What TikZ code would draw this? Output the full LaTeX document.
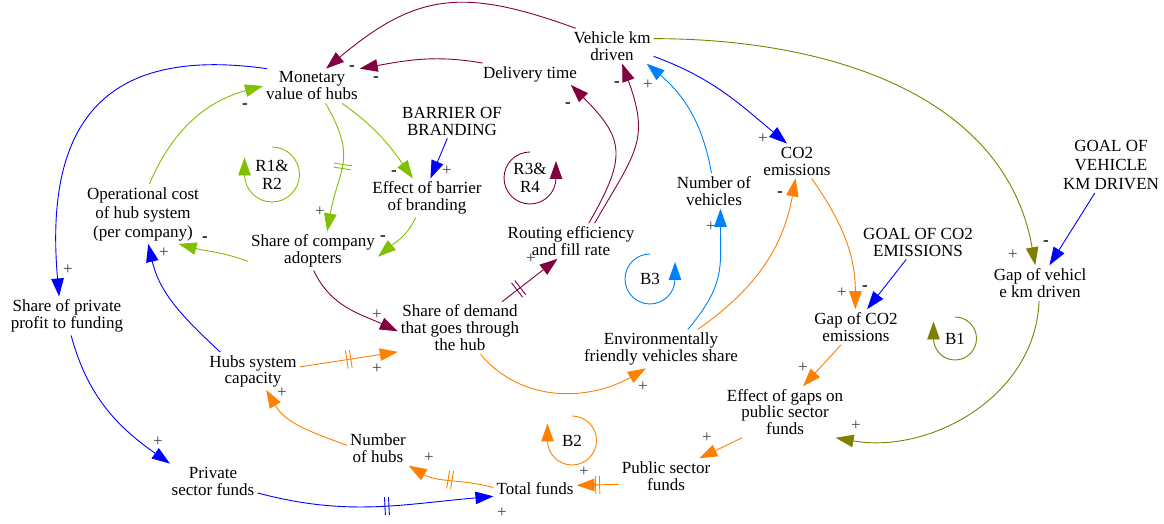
\documentclass[tikz,border=0pt]{standalone}
\usepackage{fontspec}
\setmainfont{Liberation Serif}
\usepackage{tikz}
\usetikzlibrary{arrows.meta,decorations.markings}

\definecolor{linkmaroon}{RGB}{128,0,64}
\definecolor{linkgreen}{RGB}{128,192,0}
\definecolor{linkolive}{RGB}{128,128,0}
\definecolor{linkorange}{RGB}{255,128,0}
\definecolor{linkblue}{RGB}{0,0,255}
\definecolor{linksky}{RGB}{0,128,255}

\begin{document}
\begin{tikzpicture}[x=1pt, y=1pt,
    var/.style={align=center, inner sep=3pt, font=\fontsize{17}{17}\selectfont},
    tight/.style={font=\fontsize{17}{14}\selectfont},
    wide/.style={font=\fontsize{17}{19}\selectfont},
    link/.style={line width=0.9pt, -{Triangle[length=18pt,width=12.5pt]}},
    delay/.style={postaction={decorate, decoration={markings,
      mark=at position #1 with {\draw[-, line width=0.9pt] (-2pt,-9pt) -- (-2pt,9pt) (2pt,-9pt) -- (2pt,9pt);}}}},
    pos sign/.style={inner sep=0pt, text=black!75, font=\fontsize{17}{17}\selectfont},
    neg sign/.style={inner sep=0pt, font=\bfseries\fontsize{17}{17}\selectfont},
    loopname/.style={align=center, inner sep=0pt, font=\fontsize{17}{18}\selectfont}]
    \useasboundingbox (0,0) rectangle (1164,524);

    % variables
    \node [var] (vkm) at (612,478) {Vehicle km\\driven};
    \node [var] (mvh) at (312,438) {Monetary\\value of hubs};
    \node [var] (dt) at (530,450) {Delivery time};
    \node [var] (bob) at (452,403) {BARRIER OF\\BRANDING};
    \node [var] (ebb) at (427,326) {Effect of barrier\\of branding};
    \node [var, wide] (opc) at (143,310) {Operational cost\\of hub system\\(per company)};
    \node [var] (sca) at (313,273) {Share of company\\adopters};
    \node [var] (ref) at (571,283) {Routing efficiency\\and fill rate};
    \node [var] (nov) at (714,333) {Number of\\vehicles};
    \node [var] (co2) at (797,363) {CO2\\emissions};
    \node [var, wide] (gvk) at (1111,359) {GOAL OF\\VEHICLE\\KM DRIVEN};
    \node [var] (gco) at (918,282) {GOAL OF CO2\\EMISSIONS};
    \node [var] (gapv) at (1040,241) {Gap of vehicl\\e km driven};
    \node [var] (sppf) at (67,208) {Share of private\\profit to funding};
    \node [var] (sdh) at (460,196) {Share of demand\\that goes through\\the hub};
    \node [var] (gapc) at (856,197) {Gap of CO2\\emissions};
    \node [var] (efv) at (661,175) {Environmentally\\friendly vehicles share};
    \node [var, tight] (hsc) at (253,153) {Hubs system\\capacity};
    \node [var, tight] (egp) at (785,112) {Effect of gaps on\\public sector\\funds};
    \node [var] (noh) at (378,76) {Number\\of hubs};
    \node [var] (psf) at (666,48) {Public sector\\funds};
    \node [var] (prsf) at (213,43) {Private\\sector funds};
    \node [var] (tf) at (535,35) {Total funds};

    % loop markers
    \node [loopname] (r12) at (272,349.5) {R1\&\\R2};
    \node [loopname] (r34) at (530,346) {R3\&\\R4};
    \node [loopname] (b1) at (955,185.5) {B1};
    \node [loopname] (b2) at (572,83.5) {B2};
    \node [loopname] (b3) at (650,245) {B3};
    \draw [link, linkgreen] ([shift={(90:27.5pt)}]r12.center)
        arc [start angle=90, end angle=-180, radius=27.5pt] -- ++(0,17pt);
    \draw [link, linkmaroon] ([shift={(90:26pt)}]r34.center)
        arc [start angle=90, end angle=360, radius=26pt] -- ++(0,17pt);
    \draw [link, linkolive] ([shift={(90:21.5pt)}]b1.center)
        arc [start angle=90, end angle=-180, radius=21.5pt] -- ++(0,17pt);
    \draw [link, linkorange] ([shift={(90:24.5pt)}]b2.center)
        arc [start angle=90, end angle=-180, radius=24.5pt] -- ++(0,17pt);
    \draw [link, linksky] ([shift={(90:25pt)}]b3.center)
        arc [start angle=90, end angle=360, radius=25pt] -- ++(0,17pt);

    % maroon links
    \draw [link, linkmaroon] (vkm.154) to [out=160, in=40, looseness=1.2] (mvh.51);
    \draw [link, linkmaroon] (dt.167) to [out=170, in=10] (mvh.20);
    \draw [link, linkmaroon] (ref.45) to [out=60, in=-45, looseness=1.4] (dt.-15);
    \draw [link, linkmaroon] (ref.37) to [out=60, in=-70, looseness=1.3] (vkm.-60);
    \draw [link, linkmaroon] (sca.-88) to [out=-65, in=155] (sdh.-177);
    \draw [link, linkmaroon, delay=0.3] (sdh.32) -- (ref.-127);

    % blue links
    \draw [link, linkblue] (vkm.-14) to [out=-20, in=140] (co2.120);
    \draw [link, linkblue] (gvk.-120) -- (gapv.62);
    \draw [link, linkblue] (gco.-124) -- (gapc.58);
    \draw [link, linkblue] (bob.-105) -- (ebb.80);
    \draw [link, linkblue] (hsc.150) to [out=137, in=-77] (opc.-80);
    \draw [link, linkblue] (mvh.159) to [out=172, in=95, looseness=1.4] (sppf.112);
    \draw [link, linkblue] (sppf.-78) to [out=-75, in=145] (prsf.158);
    \draw [link, linkblue, delay=0.55] (prsf.-15) to [out=-15, in=185] (tf.-170);

    % light blue links
    \draw [link, linksky] (nov.98) to [out=100, in=-40] (vkm.-27);
    \draw [link, linksky] (efv.36) to [out=50, in=-90, looseness=1.2] (nov.-70);

    % olive links
    \draw [link, linkolive] (vkm.10) to [out=0, in=100] (gapv.105);
    \draw [link, linkolive] (gapv.-93) to [out=-92, in=-10] (egp.-27);

    % orange links
    \draw [link, linkorange] (efv.28) to [out=35, in=-100] (co2.-95);
    \draw [link, linkorange] (co2.-50) to [out=-55, in=90] (gapc.92);
    \draw [link, linkorange] (gapc.-130) -- (egp.55);
    \draw [link, linkorange] (egp.-149) -- (psf.28);
    \draw [link, linkorange, delay=0.5] (psf.-170) -- (tf.5);
    \draw [link, linkorange, delay=0.5] (tf.178) to [out=165, in=-30] (noh.-30);
    \draw [link, linkorange] (noh.175) to [out=160, in=-60] (hsc.-55);
    \draw [link, linkorange, delay=0.5] (hsc.5) -- (sdh.-159);
    \draw [link, linkorange] (sdh.-52) to [out=-50, in=-150] (efv.-128);

    % green links
    \draw [link, linkgreen] (sca.-171) to [out=160, in=-15] (opc.-40);
    \draw [link, linkgreen] (opc.78) to [out=67, in=195] (mvh.180);
    \draw [link, linkgreen, delay=0.5] (mvh.-52) to [out=-60, in=80, looseness=1.3] (sca.54);
    \draw [link, linkgreen] (mvh.-30) to [out=-35, in=125] (ebb.126);
    \draw [link, linkgreen] (ebb.-120) to [out=-115, in=40] (sca.-5);

    % polarities
    \node [neg sign] (s1) at (352,456) {-};
    \node [neg sign] (s2) at (376,445) {-};
    \node [neg sign] (s3) at (568,419) {-};
    \node [neg sign] (s4) at (617,440) {-};
    \node [pos sign] (s5) at (648,439) {+};
    \node [pos sign] (s6) at (763,385) {+};
    \node [pos sign] (s7) at (1013,269) {+};
    \node [neg sign] (s8) at (1046,281) {-};
    \node [pos sign] (s9) at (711,297) {+};
    \node [neg sign] (s10) at (780,330) {-};
    \node [pos sign] (s11) at (842,231) {+};
    \node [neg sign] (s12) at (865,236) {-};
    \node [pos sign] (s13) at (803,156) {+};
    \node [pos sign] (s14) at (856,98) {+};
    \node [pos sign] (s15) at (707,86) {+};
    \node [pos sign] (s16) at (584,52) {+};
    \node [pos sign] (s17) at (502,11) {+};
    \node [pos sign] (s18) at (429,66) {+};
    \node [pos sign] (s19) at (282,131) {+};
    \node [pos sign] (s20) at (377,155) {+};
    \node [pos sign] (s21) at (377,209) {+};
    \node [pos sign] (s22) at (531,265) {+};
    \node [pos sign] (s23) at (643,137) {+};
    \node [pos sign] (s24) at (164,271) {+};
    \node [pos sign] (s25) at (68,254) {+};
    \node [pos sign] (s26) at (158,82) {+};
    \node [neg sign] (s27) at (205,285) {-};
    \node [neg sign] (s28) at (245,418) {-};
    \node [pos sign] (s29) at (320,312) {+};
    \node [neg sign] (s30) at (394,351) {-};
    \node [pos sign] (s31) at (447,353) {+};
    \node [neg sign] (s32) at (383,286) {-};
\end{tikzpicture}
\end{document}
